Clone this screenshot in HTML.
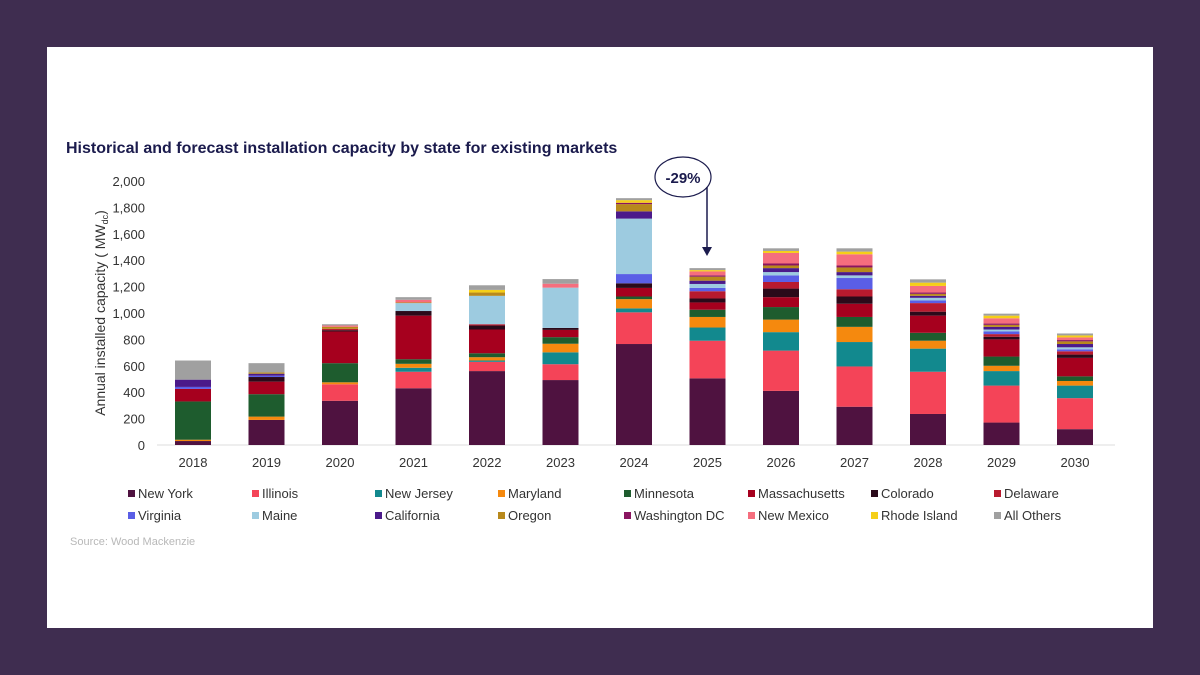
<!DOCTYPE html>
<html><head><meta charset="utf-8">
<style>
body{margin:0;width:1200px;height:675px;background:#3f2d50;font-family:"Liberation Sans",sans-serif;overflow:hidden}
#panel{position:absolute;left:47px;top:47px;width:1106px;height:581px;background:#fff}
</style></head>
<body>
<div id="panel"></div>
<svg id="chart" width="1200" height="675" style="position:absolute;left:0;top:0">
<text x="66" y="153" font-size="16" font-weight="bold" fill="#1b1b4d">Historical and forecast installation capacity by state for existing markets</text>
<text transform="translate(105,313) rotate(-90)" text-anchor="middle" font-size="14" fill="#333">Annual installed capacity ( MW<tspan font-size="9" dy="3">dc</tspan><tspan dy="-3">)</tspan></text>
<text x="70" y="545" font-size="11" fill="#b8b8b8">Source: Wood Mackenzie</text>
<g id="axes"></g><g id="bars"></g><g id="legend"></g>
<ellipse cx="683" cy="177" rx="28" ry="20" fill="#fff" stroke="#1b1b4d" stroke-width="1.2"/>
<text x="683" y="183" text-anchor="middle" font-size="15" font-weight="bold" fill="#1b1b4d">-29%</text>
<line x1="707" y1="187" x2="707" y2="248" stroke="#1b1b4d" stroke-width="1.5"/>
<polygon points="702,247 712,247 707,256" fill="#1b1b4d"/>
</svg>
<script>
const years=["2018","2019","2020","2021","2022","2023","2024","2025","2026","2027","2028","2029","2030"];
const states=["New York","Illinois","New Jersey","Maryland","Minnesota","Massachusetts","Colorado","Delaware","Virginia","Maine","California","Oregon","Washington DC","New Mexico","Rhode Island","All Others"];
const colors=["#4f1240","#f44458","#12898e","#f5890e","#1e5c2e","#a6001e","#2b0a1a","#b81a2e","#5a5ee6","#9dcbe0","#4b1a8a","#b8891c","#8a1560","#f56e7e","#f5cf18","#a0a0a0"];
const sNY=[30,190,335,430,560,492,765,505,410,290,235,170,120];
const sIL=[0,0,125,125,70,120,240,285,305,305,320,280,235];
const sNJ=[0,0,0,30,10,90,30,100,140,185,175,110,95];
const sMD=[10,25,15,30,25,65,70,80,95,115,60,40,35];
const sMN=[290,170,145,35,30,50,20,55,95,75,60,70,35];
const sMA=[95,95,240,330,180,55,65,55,75,100,130,130,140];
const sCO=[0,35,10,35,30,15,35,30,65,55,30,20,25];
const sDE=[0,0,10,0,10,0,0,55,50,55,65,20,25];
const sVA=[15,10,0,0,0,0,70,25,50,85,20,20,15];
const sME=[0,0,0,60,215,305,420,30,25,20,20,15,15];
const sCA=[55,15,0,0,0,0,55,25,30,25,15,20,25];
const sOR=[0,10,15,5,25,0,55,30,20,35,15,15,20];
const sDC=[0,0,0,0,0,0,10,10,15,15,10,10,10];
const sNM=[0,0,10,20,0,30,0,30,80,85,50,40,20];
const sRI=[0,0,0,0,20,0,20,10,15,20,25,20,15];
const sOther=[145,70,10,20,35,35,15,15,20,25,25,15,15];
const series=[sNY,sIL,sNJ,sMD,sMN,sMA,sCO,sDE,sVA,sME,sCA,sOR,sDC,sNM,sRI,sOther];
const yTicks=[0,200,400,600,800,1000,1200,1400,1600,1800,2000];
const NS="http://www.w3.org/2000/svg";
const y0=445,yTop=181,yMax=2000;
const yScale=v=>y0-v/yMax*(y0-yTop);
const xScale=i=>193+i*73.5;
const bw=36;
function mk(t,a,p){const e=document.createElementNS(NS,t);for(const k in a)e.setAttribute(k,a[k]);p.appendChild(e);return e;}
const axes=document.getElementById('axes');
const bl=mk('line',{x1:157,x2:1115,y1:y0,y2:y0,stroke:'#ddd','stroke-width':1},axes);


yTicks.forEach(v=>{
 const t=mk('text',{x:145,y:yScale(v)+5,'text-anchor':'end','font-size':13,fill:'#333'},axes);
 t.textContent=v.toLocaleString('en-US');
 
 
});
years.forEach((yr,i)=>{
 const t=mk('text',{x:xScale(i),y:467,'text-anchor':'middle','font-size':13,fill:'#333'},axes);
 t.textContent=yr;
 
 
});
const bars=document.getElementById('bars');
years.forEach((yr,i)=>{
 let cum=0;
 series.forEach((s,k)=>{
  const v=s[i]; if(!v) return;
  const r=mk('rect',{x:xScale(i)-bw/2,y:yScale(cum+v),width:bw,height:yScale(cum)-yScale(cum+v),fill:colors[k]},bars);
  
  
  cum+=v;
 });
});
const lg=document.getElementById('legend');
const lx=[128,252,375,498,624,748,871,994];
states.forEach((s,k)=>{
 const x=lx[k%8],y=k<8?494:516;
 const r=mk('rect',{x:x,y:y-4,width:7,height:7,fill:colors[k]},lg);
 
 
 const t=mk('text',{x:x+10,y:y+4,'font-size':13,fill:'#333'},lg);
 t.textContent=s;
 
 
});
</script>
</body></html>
